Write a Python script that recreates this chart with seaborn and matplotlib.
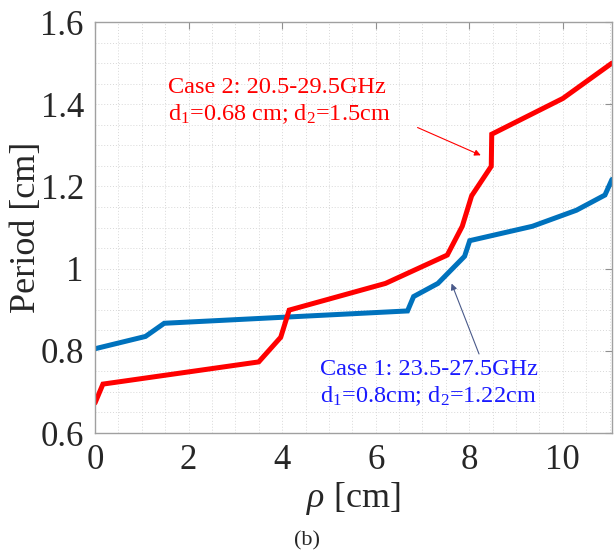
import matplotlib
matplotlib.use("Agg")
import matplotlib.pyplot as plt
import seaborn as sns
import pandas as pd
import numpy as np

# Case 1 (blue)
rho_case1 = [0.0, 1.08, 1.48, 6.68, 6.81, 7.33, 7.90, 8.01, 9.35, 10.29, 10.90, 11.05]
period_case1 = [0.805, 0.835, 0.867, 0.897, 0.932, 0.964, 1.030, 1.068, 1.103, 1.142, 1.179, 1.217]

# Case 2 (red)
rho_case2 = [0.0, 0.17, 3.50, 3.97, 4.15, 6.21, 7.53, 7.85, 8.05, 8.47, 8.48, 10.00, 11.05]
period_case2 = [0.673, 0.719, 0.773, 0.833, 0.899, 0.964, 1.033, 1.103, 1.177, 1.249, 1.327, 1.414, 1.500]

x_ticks = [0, 2, 4, 6, 8, 10]
y_ticks = [0.6, 0.8, 1.0, 1.2, 1.4, 1.6]
y_tick_labels = ["0.6", "0.8", "1", "1.2", "1.4", "1.6"]

label_case1 = "Case 1: 23.5-27.5GHz\nd$_1$=0.8cm; d$_2$=1.22cm"
label_case2 = "Case 2: 20.5-29.5GHz\nd$_1$=0.68 cm; d$_2$=1.5cm"

sns.set_style("white")
plt.rcParams["font.family"] = ["Liberation Serif", "DejaVu Serif"]
plt.rcParams["mathtext.fontset"] = "custom"
plt.rcParams["mathtext.rm"] = "Liberation Serif"
plt.rcParams["mathtext.it"] = "Liberation Serif:italic"

df1 = pd.DataFrame({"rho": rho_case1, "period": period_case1})
df2 = pd.DataFrame({"rho": rho_case2, "period": period_case2})

fig = plt.figure(figsize=(6.14, 5.57), dpi=100)
ax = fig.add_axes([0.1547, 0.2226, 0.8420, 0.7379])

blue = "#0072BD"
red = "#FF0000"
sns.lineplot(data=df1, x="rho", y="period", ax=ax, color=blue, linewidth=3.6,
             sort=False, estimator=None, solid_joinstyle="miter")
sns.lineplot(data=df2, x="rho", y="period", ax=ax, color=red, linewidth=3.6,
             sort=False, estimator=None, solid_joinstyle="miter")

ax.set_xlim(0, 11.05)
ax.set_ylim(0.6, 1.6)
ax.set_xticks(x_ticks)
ax.set_yticks(y_ticks)
ax.set_yticklabels(y_tick_labels)
ax.set_xticks(np.arange(0, 11.05, 0.5), minor=True)
ax.set_yticks(np.arange(0.6, 1.6001, 0.05), minor=True)
ax.grid(which="both", color="#d8d8d8", linestyle=(0, (1, 2)), linewidth=0.7)
ax.set_axisbelow(True)

ax.tick_params(which="major", direction="in", length=5, width=0.8, color="#909090",
               top=True, right=True, labelsize=25, pad=8, labelcolor="#262626")
ax.tick_params(which="minor", length=0, top=True, right=True)
for sp in ax.spines.values():
    sp.set_color("#a0a0a0")
    sp.set_linewidth(1.0)

ax.set_xlabel(r"$\it{\rho}$ [cm]", fontsize=26, color="#262626", labelpad=2)
ax.set_ylabel("Period [cm]", fontsize=26, color="#262626", labelpad=-2)

ax.text(1.57, 1.348, label_case2, color=red, fontsize=17.5, ha="left", va="bottom",
        linespacing=1.2)
ax.annotate("", xy=(8.30, 1.273), xytext=(6.84, 1.346),
            arrowprops=dict(arrowstyle="-|>", color=red, lw=0.8, mutation_scale=9))

ax.text(4.8, 0.662, label_case1, color="#1a1aff", fontsize=17.5, ha="left", va="bottom",
        linespacing=1.2)
ax.annotate("", xy=(7.60, 0.970), xytext=(8.23, 0.786),
            arrowprops=dict(arrowstyle="-|>", color="#4a5a8a", lw=0.8, mutation_scale=9))

fig.text(0.5, 0.012, "(b)", ha="center", va="bottom", fontsize=16, color="#262626")

fig.savefig("out.png", dpi=100)
